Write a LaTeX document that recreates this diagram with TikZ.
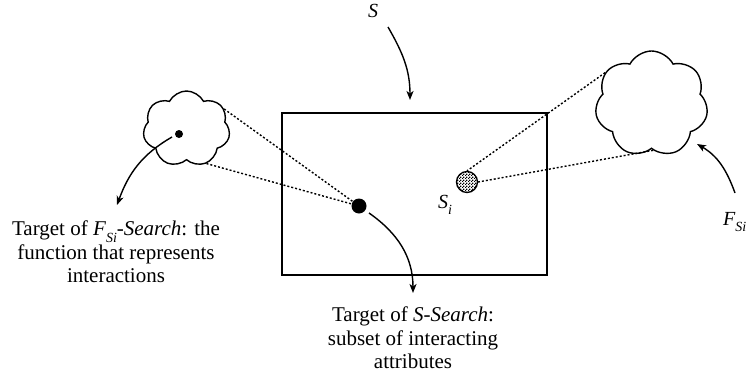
\documentclass[tikz,border=0pt]{standalone}
\usepackage{fontspec}
\setmainfont{Liberation Serif}
\usetikzlibrary{shapes.symbols,arrows.meta,patterns}
\pgfdeclarepatternformonly{finecheck}{\pgfpointorigin}{\pgfqpoint{3pt}{3pt}}{\pgfqpoint{3pt}{3pt}}{%
  \pgfpathrectangle{\pgfpointorigin}{\pgfqpoint{1.5pt}{1.5pt}}%
  \pgfpathrectangle{\pgfqpoint{1.5pt}{1.5pt}}{\pgfqpoint{1.5pt}{1.5pt}}%
  \pgfusepath{fill}}
\newcommand\lsub[1]{\raisebox{-6.5pt}{\fontsize{14}{14}\selectfont\itshape #1}}
\begin{document}
\begin{tikzpicture}[x=1pt,y=1pt,
  lbl/.style={font=\fontsize{21}{23.5}\selectfont, inner sep=0pt},
  ilbl/.style={font=\fontsize{20}{23.5}\selectfont\itshape, inner sep=0pt},
  blob/.style={cloud, cloud puffs=7, cloud puff arc=125, cloud ignores aspect, draw, line width=1.4pt, inner sep=0pt},
  conn/.style={line width=1.4pt, -{Stealth[length=9pt,width=7pt,inset=2.5pt]}},
  dots/.style={line width=1.4pt, dash pattern=on 2pt off 2pt},
  frame/.style={draw, line width=1.6pt}]
\useasboundingbox (0,0) rectangle (755,-383);
% frame
\node[frame, minimum width=265pt, minimum height=162pt, inner sep=0pt] (box) at (414.5,-194) {};
% clouds
\node[blob, minimum width=87pt, minimum height=76pt] (lc) at (186.5,-129) {};
\node[blob, minimum width=113pt, minimum height=106pt, shape border rotate=10] (rc) at (651.5,-104) {};
% dots
\node[circle, fill, minimum size=8pt, inner sep=0pt] (ld) at (179,-134) {};
\node[circle, fill, minimum size=15pt, inner sep=0pt] (md) at (359,-206) {};
\node[circle, draw, line width=1.3pt, pattern=finecheck, minimum size=21pt, inner sep=0pt] (si) at (467,-182) {};
% dotted connectors
\draw[dots] (lc.28) -- (md);
\draw[dots] (lc.-60) -- (md);
\draw[dots] (rc.146) -- (si.north);
\draw[dots] (rc.-88) -- (si.east);
% labels
\node[ilbl, anchor=base] (sT) at (373,-17) {S};
\node[ilbl, anchor=base west] (siL) at (438,-208) {S\lsub{i}};
\node[ilbl, anchor=base west] (fL) at (723,-225) {F\lsub{Si}};
\node[lbl, align=center, anchor=north] (t1) at (413,-307) {Target of \textit{S-Search}:\\subset of interacting\\attributes};
\node[lbl, align=center, anchor=north] (t2) at (116,-221) {Target of \textit{F}\lsub{Si}-\textit{Search}: the\\function that represents\\interactions};
% arrows
\coordinate (a1s) at (388,-27); \coordinate (a1e) at (410,-100);
\draw[conn] (a1s) to[out=-60,in=90] (a1e);
\coordinate (a2s) at (369,-213); \coordinate (a2e) at (413,-293);
\draw[conn] (a2s) to[out=-35,in=90] (a2e);
\coordinate (a3s) at (172,-137); \coordinate (a3e) at (117,-205);
\draw[conn] (a3s) to[out=210,in=70] (a3e);
\coordinate (a4s) at (735,-193); \coordinate (a4e) at (697,-144);
\draw[conn] (a4s) to[out=110,in=-30] (a4e);
\end{tikzpicture}
\end{document}
